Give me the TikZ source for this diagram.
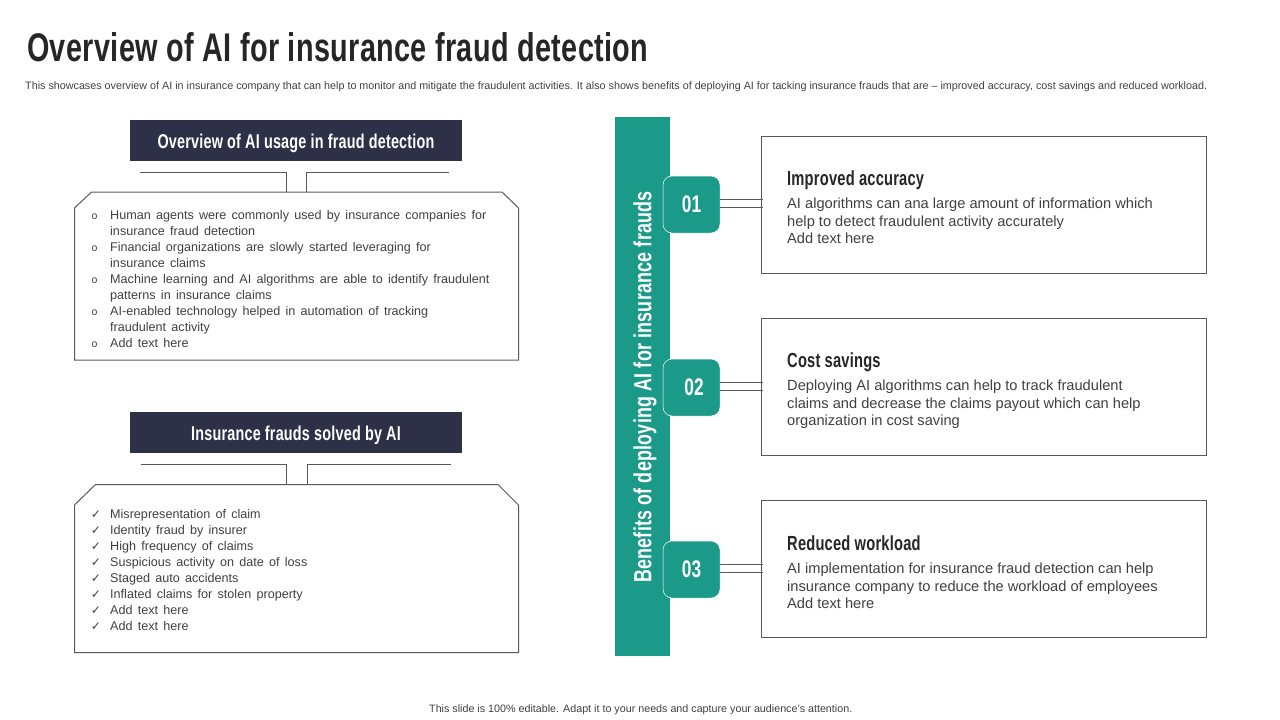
\documentclass[tikz,border=0pt]{standalone}
\usepackage{fontspec}
\setmainfont{Liberation Sans}
\newfontfamily\headfont[FakeStretch=0.72,LetterSpace=1]{Liberation Sans Bold}
\newfontfamily\listfont[WordSpace=1.5]{Liberation Sans}
\newfontfamily\markfont{DejaVu Sans}
\definecolor{navybar}{HTML}{2D3047}
\definecolor{tealbar}{HTML}{1B9A8A}
\definecolor{inkgrey}{HTML}{404040}
\definecolor{rulegrey}{HTML}{595959}
\begin{document}
\begin{tikzpicture}[line cap=butt,line join=miter,x=1pt,y=-1pt,
  rule/.style={draw=rulegrey,line width=1pt},
  headbar/.style={fill=navybar,text=white,minimum width=332pt,minimum height=41pt,inner sep=0pt,text height=16pt,text depth=0pt,font=\headfont\fontsize{20}{22}\selectfont},
  numbox/.style={fill=tealbar,draw=white,line width=0.5pt,rounded corners=9pt,minimum width=57pt,minimum height=57pt,inner sep=0pt,text=white,font=\headfont\fontsize{24}{26}\selectfont},
  card/.style={rule,minimum width=445pt,minimum height=137pt,inner sep=0pt},
  listline/.style={anchor=base west,inner sep=0pt,text=inkgrey,font=\listfont\fontsize{12.6}{14}\selectfont},
  listmark/.style={anchor=base,inner sep=0pt,text=inkgrey,font=\fontsize{10.5}{12}\selectfont},
  checkmark/.style={anchor=base,inner sep=0pt,text=inkgrey,font=\markfont\fontsize{12}{14}\selectfont},
  cardhead/.style={anchor=base west,inner sep=0pt,text=black!85,font=\headfont\fontsize{20.4}{22}\selectfont},
  cardline/.style={anchor=base west,inner sep=0pt,text=inkgrey,font=\fontsize{14.65}{17}\selectfont}]
\useasboundingbox (0,0) rectangle (1280,720);
% title
\node[anchor=base west,inner sep=0pt,text=black!85,font=\headfont\fontsize{40}{44}\selectfont] (title) at (27,61) {Overview of AI for insurance fraud detection};
\node[anchor=base west,inner sep=0pt,text=inkgrey,font=\fontsize{10.76}{12}\selectfont] (subtitle) at (25,89) {This showcases overview of AI in insurance company that can help to monitor and mitigate the fraudulent activities. It also shows benefits of deploying AI for tacking insurance frauds that are -- improved accuracy, cost savings and reduced workload.};
% left column, top
\node[headbar] (headA) at (296,140.5) {Overview of AI usage in fraud detection};
\draw[rule] (74.5,360) coordinate (panelA) -- (74.5,208) -- (91.5,192) -- (502,192) -- (518.5,208) -- (518.5,360) -- cycle;
\draw[rule] (140,172) -- (286.5,172) -- (286.5,192);
\draw[rule] (449,172) -- (306.5,172) -- (306.5,192);
\node[listmark] (markA1) at (94.5,219) {o};
\node[listline] (lineA1) at (110,219) {Human agents were commonly used by insurance companies for};
\node[listline] (lineA2) at (110,235) {insurance fraud detection};
\node[listmark] (markA3) at (94.5,251) {o};
\node[listline] (lineA3) at (110,251) {Financial organizations are slowly started leveraging for};
\node[listline] (lineA4) at (110,267) {insurance claims};
\node[listmark] (markA5) at (94.5,283) {o};
\node[listline] (lineA5) at (110,283) {Machine learning and AI algorithms are able to identify fraudulent};
\node[listline] (lineA6) at (110,299) {patterns in insurance claims};
\node[listmark] (markA7) at (94.5,315) {o};
\node[listline] (lineA7) at (110,315) {AI-enabled technology helped in automation of tracking};
\node[listline] (lineA8) at (110,331) {fraudulent activity};
\node[listmark] (markA9) at (94.5,347) {o};
\node[listline] (lineA9) at (110,347) {Add text here};
% left column, bottom
\node[headbar] (headB) at (296,432.5) {Insurance frauds solved by AI};
\draw[rule] (74.5,652.5) -- (74.5,505) -- (95.5,484.5) -- (498,484.5) -- (518.5,505) -- (518.5,652.5) -- cycle;
\draw[rule] (140.5,464.5) -- (286.5,464.5) -- (286.5,484.5);
\draw[rule] (450.5,464.5) -- (307.5,464.5) -- (307.5,484.5);
\node[checkmark] (markB1) at (96,518) {✓};
\node[listline] (lineB1) at (110,518) {Misrepresentation of claim};
\node[checkmark] (markB2) at (96,534) {✓};
\node[listline] (lineB2) at (110,534) {Identity fraud by insurer};
\node[checkmark] (markB3) at (96,550) {✓};
\node[listline] (lineB3) at (110,550) {High frequency of claims};
\node[checkmark] (markB4) at (96,566) {✓};
\node[listline] (lineB4) at (110,566) {Suspicious activity on date of loss};
\node[checkmark] (markB5) at (96,582) {✓};
\node[listline] (lineB5) at (110,582) {Staged auto accidents};
\node[checkmark] (markB6) at (96,598) {✓};
\node[listline] (lineB6) at (110,598) {Inflated claims for stolen property};
\node[checkmark] (markB7) at (96,614) {✓};
\node[listline] (lineB7) at (110,614) {Add text here};
\node[checkmark] (markB8) at (96,630) {✓};
\node[listline] (lineB8) at (110,630) {Add text here};
% teal bar
\node[fill=tealbar,minimum width=55pt,minimum height=539pt,inner sep=0pt] (bar) at (642.5,386.5) {};
\node[rotate=90,inner sep=0pt,text=white,font=\headfont\fontsize{24.8}{26}\selectfont] (barlabel) at (645,387) {Benefits of deploying AI for insurance frauds};
% cards
\node[card] (cardA) at (984,205) {};
\node[card] (cardB) at (984,387) {};
\node[card] (cardC) at (984,569) {};
\node[numbox] (numA) at (691.5,204.5) {01};
\node[numbox] (numB) at (691.5,387.5) {\hspace*{5pt}02};
\node[numbox] (numC) at (691.5,569.5) {03};
\draw[rule] ([yshift=5pt]numA.east) -- ([yshift=5pt,xshift=2pt]numA.east -| cardA.west);
\draw[rule] ([yshift=-3pt]numA.east) -- ([yshift=-3pt,xshift=2pt]numA.east -| cardA.west);
\draw[rule] ([yshift=5pt]numB.east) -- ([yshift=5pt,xshift=2pt]numB.east -| cardB.west);
\draw[rule] ([yshift=-3pt]numB.east) -- ([yshift=-3pt,xshift=2pt]numB.east -| cardB.west);
\draw[rule] ([yshift=5pt]numC.east) -- ([yshift=5pt,xshift=2pt]numC.east -| cardC.west);
\draw[rule] ([yshift=-3pt]numC.east) -- ([yshift=-3pt,xshift=2pt]numC.east -| cardC.west);
\node[cardhead] (headC1) at (787,185) {Improved accuracy};
\node[cardline] (textA1) at (787,208) {AI algorithms can ana large amount of information which};
\node[cardline] (textA2) at (787,226) {help to detect fraudulent activity accurately};
\node[cardline] (textA3) at (787,243) {Add text here};
\node[cardhead] (headC2) at (787,367) {Cost savings};
\node[cardline] (textB1) at (787,390) {Deploying AI algorithms can help to track fraudulent};
\node[cardline] (textB2) at (787,408) {claims and decrease the claims payout which can help};
\node[cardline] (textB3) at (787,425) {organization in cost saving};
\node[cardhead] (headC3) at (787,550) {Reduced workload};
\node[cardline] (textC1) at (787,573) {AI implementation for insurance fraud detection can help};
\node[cardline] (textC2) at (787,591) {insurance company to reduce the workload of employees};
\node[cardline] (textC3) at (787,608) {Add text here};
% footer
\node[anchor=base west,inner sep=0pt,text=inkgrey,font=\fontsize{10.73}{12}\selectfont] (footer) at (429,712) {This slide is 100\% editable. Adapt it to your needs and capture your audience's attention.};
\end{tikzpicture}
\end{document}
